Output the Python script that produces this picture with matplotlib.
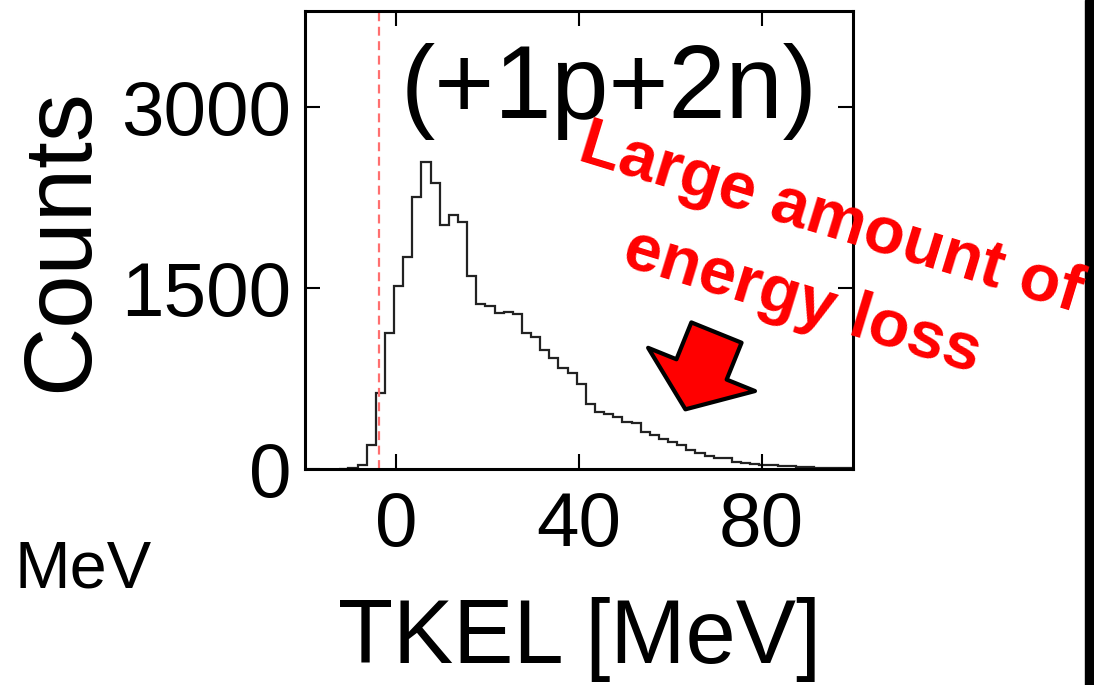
import numpy as np
import matplotlib
matplotlib.use("Agg")
import matplotlib.pyplot as plt
from matplotlib.patches import Rectangle

plt.rcParams['font.family'] = ['Liberation Sans', 'DejaVu Sans']

# TKEL histogram, 2 MeV bins starting at -12.5 MeV
bin_edges = np.arange(-12.5, 100, 2)
counts = [3, 8, 30, 200, 627, 1130, 1520, 1755, 2257, 2548,
          2376, 2023, 2106, 2050, 1600, 1368, 1351, 1296, 1304, 1290,
          1130, 1097, 986, 918, 835, 793, 705, 539, 470, 455,
          434, 392, 380, 309, 282, 250, 225, 200, 160, 130,
          105, 95, 88, 62, 50, 45, 35, 30, 25, 22,
          18, 15, 12, 10, 8, 6]
threshold = -3.7
x_ticks = [0, 40, 80]
y_ticks = [0, 1500, 3000]

W, H = 1094, 685
fig = plt.figure(figsize=(W / 100, H / 100), dpi=100)
ax = fig.add_axes([305 / W, 1 - 469 / H, (853 - 305) / W, (469 - 11) / H])

ax.stairs(counts, bin_edges, color='#222222', lw=1.6)
ax.axvline(threshold, color='#ff6f6f', lw=1.6, ls=(0, (4, 2.5)))

ax.set_xlim(-20, 100)
ax.set_ylim(0, 3800)
ax.set_xticks(x_ticks)
ax.set_yticks(y_ticks)
ax.tick_params(direction='in', top=True, right=True, length=11, width=1.5,
               labelsize=55)
ax.tick_params(axis='x', pad=16)
ax.tick_params(axis='y', pad=10)
for s in ax.spines.values():
    s.set_linewidth(2.2)

ax.set_xlabel('TKEL [MeV]', fontsize=65, labelpad=25)
ax.set_ylabel('Counts', fontsize=69, labelpad=10)

ax.text(0.555, 1 - (118 - 11) / 458, '(+1p+2n)', transform=ax.transAxes,
        fontsize=74, ha='center', va='baseline')

# arrow pointing to the high-TKEL tail
ax.annotate('', xy=(63.3, 495), xytext=(70.1, 1132),
            arrowprops=dict(arrowstyle='simple,head_length=31,head_width=83,tail_width=39',
                            mutation_scale=1, fc='red', ec='black', lw=3,
                            shrinkA=0, shrinkB=0))

fig.text(831 / W, 1 - 220 / H, 'Large amount of', color='red', fontsize=48,
         fontweight='bold', rotation=-17, ha='center', va='center',
         rotation_mode='anchor')
fig.text(802 / W, 1 - 302 / H, 'energy loss', color='red', fontsize=48,
         fontweight='bold', rotation=-17, ha='center', va='center',
         rotation_mode='anchor')

fig.text(15 / W, 1 - 588 / H, 'MeV', fontsize=48, ha='left', va='baseline')

fig.add_artist(Rectangle((1085 / W, 0), 9 / W, 1, transform=fig.transFigure,
                         color='black'))

fig.savefig('out.png', dpi=100)
